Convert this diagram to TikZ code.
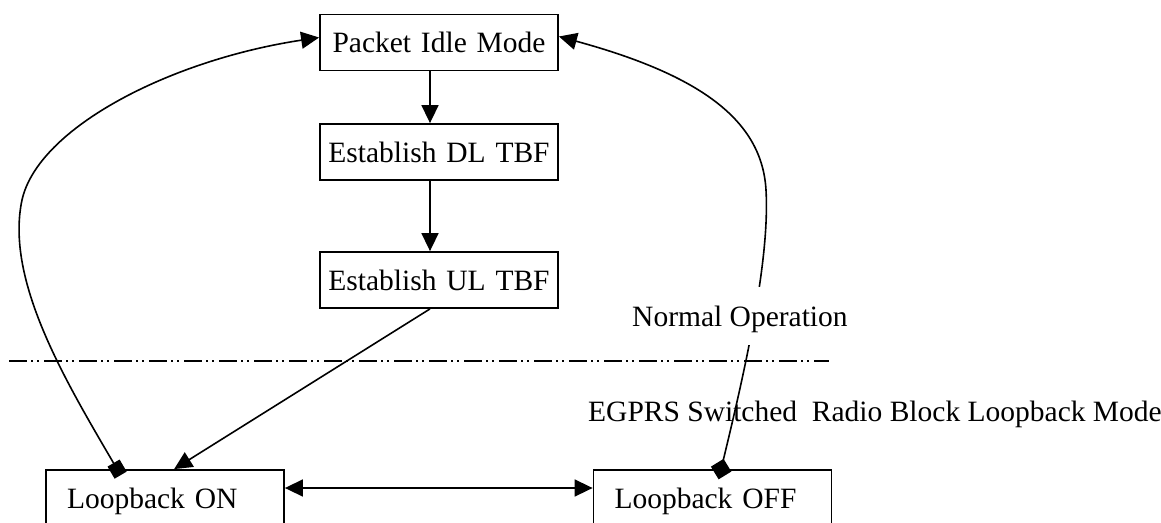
\documentclass[tikz,border=0pt]{standalone}
\usepackage{fontspec}
\setmainfont{Liberation Serif}
\usetikzlibrary{arrows.meta,calc}
\newcommand{\dfont}{\fontsize{29.5}{35}\selectfont}
\tikzset{
  box/.style={draw, line width=1.8pt, minimum height=56pt, inner xsep=3pt, inner ysep=0pt,
    text width=232pt, align=center, text height=20pt, text depth=0pt, font=\dfont},
  lbox/.style={box, inner xsep=21pt, text width=196pt, align=left},
  conn/.style={line width=1.6pt},
  tri/.style={-{Triangle[length=18pt,width=17pt]}},
  bitri/.style={{Triangle[length=18pt,width=17pt]}-{Triangle[length=18pt,width=17pt]}},
  sqstart/.style={{Square[length=14pt,width=14pt]}-{Triangle[length=18pt,width=17pt]}, shorten <=-7pt},
  dmstart/.style={{Diamond[length=21pt,width=21pt]}-{Triangle[length=18pt,width=17pt]}, shorten <=-10.5pt},
  sep/.style={line width=1.5pt, dash pattern=on 18pt off 4pt on 2pt off 4pt on 2pt off 5pt},
  lbl/.style={font=\dfont, inner sep=0pt, anchor=base west},
}
\begin{document}
\begin{tikzpicture}[x=1pt,y=-1pt]
\useasboundingbox (0,0) rectangle (1161,522);
\fill[white] (0,0) rectangle (1161,522);

\node[box] (pim) at (439,42.5) {Packet Idle Mode};
\node[box] (dl) at (439,152) {Establish DL TBF};
\node[box] (ul) at (439,280) {Establish UL TBF};
\node[lbox] (on) at (165,498) {Loopback ON};
\node[lbox] (off) at (712.5,498) {Loopback OFF};

\coordinate (col) at (430,0);
\coordinate (sepL) at (9,361);
\coordinate (sepR) at (829,361);

\draw[sep] (sepL) -- (sepR);

\draw[conn,tri] (pim.south -| col) -- (dl.north -| col);
\draw[conn,tri] (dl.south -| col) -- (ul.north -| col);
\draw[conn,tri] (ul.south -| col) -- ($(on.north west)+(129,0)$);
\draw[conn,bitri] ($(on.east)+(0,-10)$) -- ($(off.west)+(0,-10)$);

\draw[conn,sqstart] ($(on.north west)+(72,0)$)
  .. controls (65,380) and (5,280) .. (22,200)
  .. controls (38,128) and (170,60) .. ($(pim.west)+(0,-5)$);

\draw[conn,dmstart] ($(off.north west)+(128.5,0)$)
  .. controls (745,370) and (770,260) .. (766,190)
  .. controls (762,120) and (700,75) .. ($(pim.east)+(0,-6)$);

\node[lbl, fill=white, inner xsep=2pt, inner ysep=19pt, text height=20pt, text depth=0pt] (normal) at (630,326) {Normal Operation};
\node[lbl] (egprs) at (588,421) {EGPRS Switched\ \ Radio Block Loopback Mode};
\end{tikzpicture}
\end{document}
